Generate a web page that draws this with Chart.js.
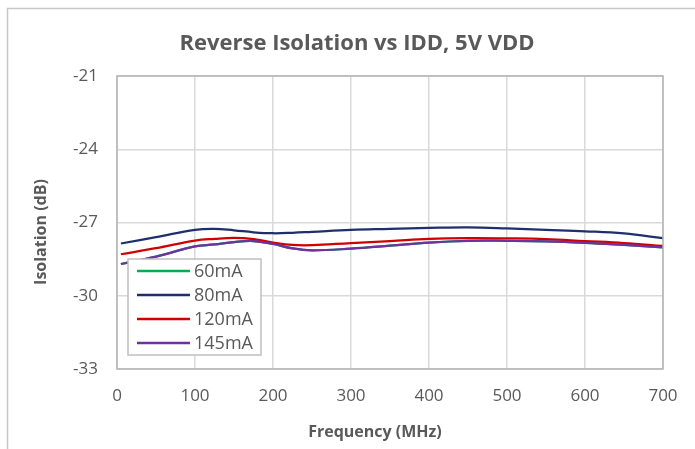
<!DOCTYPE html>
<html>
<head>
<meta charset="utf-8">
<script src="https://cdn.jsdelivr.net/npm/chart.js@4/dist/chart.umd.min.js"></script>
<style>
  html, body { margin: 0; padding: 0; background: #fff; }
  #wrap { width: 695px; height: 449px; }
</style>
</head>
<body>
<div id="wrap"><canvas id="chart" width="695" height="449"></canvas></div>
<script>
// ── Data ──────────────────────────────────────────────────────────
const freqMHz = [5, 50, 100, 125, 150, 175, 200, 225, 250, 300, 350, 400, 450, 500, 550, 600, 650, 700];

const iso60mA  = [-28.70, -28.40, -27.98, -27.90, -27.80, -27.76, -27.88, -28.06, -28.14, -28.07, -27.95, -27.82, -27.75, -27.75, -27.77, -27.83, -27.92, -28.02];
const iso80mA  = [-27.86, -27.60, -27.30, -27.26, -27.32, -27.40, -27.44, -27.42, -27.38, -27.30, -27.26, -27.22, -27.20, -27.24, -27.30, -27.36, -27.45, -27.64];
const iso120mA = [-28.30, -28.05, -27.74, -27.67, -27.63, -27.68, -27.82, -27.92, -27.93, -27.84, -27.76, -27.67, -27.64, -27.65, -27.68, -27.76, -27.84, -27.96];
const iso145mA = [-28.70, -28.40, -27.98, -27.90, -27.80, -27.76, -27.88, -28.06, -28.14, -28.07, -27.95, -27.82, -27.75, -27.75, -27.77, -27.83, -27.92, -28.02];

const seriesNames  = ["60mA", "80mA", "120mA", "145mA"];
const seriesColors = ["#00b050", "#1f2f6e", "#d00000", "#7030a0"];
const seriesValues = [iso60mA, iso80mA, iso120mA, iso145mA];

const xTicks = [0, 100, 200, 300, 400, 500, 600, 700];
const yTicks = [-33, -30, -27, -24, -21];

const TXT  = "#595959";
const FONT = "'Open Sans', sans-serif";

// ── Frame, titles, plot border & legend box ───────────────────────
const excelLook = {
  id: "excelLook",
  beforeDraw(chart) {
    const { ctx } = chart;
    ctx.save();
    ctx.strokeStyle = "#c8c8c8";
    ctx.lineWidth = 1.5;
    ctx.beginPath();
    ctx.moveTo(7.5, 449);
    ctx.lineTo(7.5, 8.5);
    ctx.lineTo(695, 8.5);
    ctx.stroke();

    ctx.fillStyle = TXT;
    ctx.textAlign = "center";
    ctx.textBaseline = "middle";
    ctx.font = `bold 22px ${FONT}`;
    ctx.fillText("Reverse Isolation vs IDD, 5V VDD", 357, 44);

    ctx.font = `bold 16px ${FONT}`;
    ctx.fillText("Frequency (MHz)", 375, 432);
    ctx.translate(41, 232);
    ctx.rotate(-Math.PI / 2);
    ctx.fillText("Isolation (dB)", 0, 0);
    ctx.restore();
  },
  afterDraw(chart) {
    const { ctx, chartArea: a } = chart;
    ctx.save();
    ctx.strokeStyle = "#b4b4b4";
    ctx.lineWidth = 1.5;
    ctx.strokeRect(a.left, a.top, a.right - a.left, a.bottom - a.top);

    // legend
    const bx = 128, by = 259, bw = 133, bh = 96;
    ctx.fillStyle = "#fff";
    ctx.fillRect(bx, by, bw, bh);
    ctx.strokeStyle = "#bfbfbf";
    ctx.lineWidth = 1.5;
    ctx.strokeRect(bx, by, bw, bh);
    ctx.font = `18px ${FONT}`;
    ctx.textAlign = "left";
    ctx.textBaseline = "middle";
    chart.data.datasets.forEach((ds, i) => {
      const yy = by + 12 + i * 24;
      ctx.strokeStyle = ds.borderColor;
      ctx.lineWidth = 2.5;
      ctx.beginPath();
      ctx.moveTo(137, yy);
      ctx.lineTo(190, yy);
      ctx.stroke();
      ctx.fillStyle = TXT;
      ctx.fillText(ds.label, 194, yy + 1);
    });
    ctx.restore();
  }
};

new Chart(document.getElementById("chart"), {
  type: "line",
  data: {
    // last series on top, like the spreadsheet
    datasets: seriesNames.map((name, i) => ({
      label: name,
      data: freqMHz.map((f, j) => ({ x: f, y: seriesValues[i][j] })),
      borderColor: seriesColors[i],
      backgroundColor: "transparent",
      borderWidth: 2.25,
      pointRadius: 0,
      tension: 0.4,
      order: seriesNames.length - i,
    }))
  },
  options: {
    responsive: false,
    animation: false,
    layout: { padding: { left: 8, right: 32, top: 76, bottom: 0 } },
    plugins: { legend: { display: false }, tooltip: { enabled: false } },
    scales: {
      x: {
        type: "linear", min: 0, max: 700,
        afterBuildTicks: s => { s.ticks = xTicks.map(v => ({ value: v })); },
        afterFit: s => { s.height = 80; },
        grid: { color: "#d9d9d9", lineWidth: 1.5, drawTicks: false },
        border: { display: false },
        ticks: { color: TXT, font: { family: FONT, size: 17 }, padding: 17, maxRotation: 0 }
      },
      y: {
        min: -33, max: -21,
        afterBuildTicks: s => { s.ticks = yTicks.map(v => ({ value: v })); },
        afterFit: s => { s.width = 109; },
        grid: { color: "#d9d9d9", lineWidth: 1.5, drawTicks: false },
        border: { display: false },
        ticks: { color: TXT, font: { family: FONT, size: 17 }, padding: 19 }
      }
    }
  },
  plugins: [excelLook]
});
</script>
</body>
</html>
